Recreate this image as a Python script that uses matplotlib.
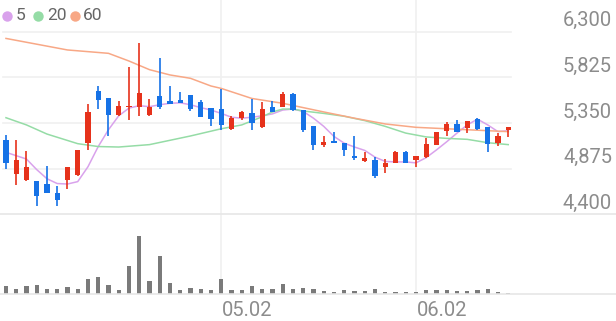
import matplotlib
matplotlib.use("Agg")
from matplotlib import pyplot as plt
from matplotlib.lines import Line2D
from matplotlib import transforms

plt.rcParams['font.family'] = ['Roboto', 'DejaVu Sans']

# daily candles (price in won)
opens = [5170, 4820, 4760, 4750, 4715, 4625, 4760, 4805, 5145, 5685,
         5610, 5435, 5515, 5520, 5435, 5635, 5575, 5585, 5640, 5565,
         5510, 5495, 5285, 5400, 5450, 5305, 5520, 5520, 5655, 5485,
         5320, 5125, 5155, 5140, 5010, 4955, 4960, 4895, 4930, 5045,
         4965, 4995, 5125, 5270, 5340, 5295, 5390, 5305, 5145, 5280]
closes = [4930, 4960, 4895, 4595, 4620, 4545, 4890, 5065, 5465, 5590,
          5435, 5530, 5530, 5660, 5515, 5520, 5550, 5560, 5495, 5415,
          5390, 5330, 5405, 5460, 5350, 5495, 5460, 5655, 5485, 5280,
          5125, 5150, 5145, 5065, 4990, 4985, 4795, 4930, 5045, 4935,
          5010, 5135, 5260, 5340, 5260, 5370, 5285, 5135, 5210, 5305]
highs = [5230, 5175, 5060, 4750, 4905, 4690, 4890, 5065, 5550, 5730,
         5610, 5580, 5930, 6180, 5600, 6030, 5730, 5675, 5640, 5590,
         5510, 5700, 5425, 5470, 5600, 5565, 5580, 5675, 5660, 5485,
         5320, 5210, 5255, 5145, 5215, 5045, 5000, 4975, 5055, 5055,
         5010, 5190, 5260, 5365, 5385, 5370, 5400, 5305, 5245, 5305]
lows = [4870, 4705, 4750, 4490, 4620, 4490, 4665, 4795, 5065, 5500,
        5210, 5425, 5385, 5425, 5425, 5495, 5550, 5560, 5470, 5415,
        5315, 5280, 5280, 5385, 5280, 5295, 5460, 5515, 5475, 5255,
        5065, 5100, 5145, 5010, 4965, 4940, 4775, 4830, 4930, 4935,
        4895, 4990, 5125, 5215, 5260, 5245, 5280, 5045, 5110, 5200]
volumes = [320, 190, 320, 350, 190, 190, 290, 190, 610, 670,
           350, 160, 1110, 2330, 530, 1530, 440, 160, 250, 190,
           160, 600, 160, 160, 310, 210, 190, 410, 210, 240,
           190, 120, 70, 150, 130, 130, 190, 80, 80, 80,
           90, 160, 160, 160, 120, 120, 160, 210, 90, 30]

ma5 = [5045, 5010, 4975, 4865, 4770, 4720, 4715, 4740, 4895, 5105,
       5280, 5425, 5505, 5530, 5520, 5540, 5555, 5560, 5540, 5510,
       5485, 5450, 5410, 5400, 5410, 5425, 5445, 5485, 5495, 5470,
       5400, 5315, 5210, 5140, 5100, 5065, 4995, 4950, 4945, 4945,
       4935, 4990, 5070, 5155, 5245, 5330, 5390, 5330, 5260, 5270]
ma20_idx = [0, 2, 4, 7, 9, 11, 14, 16, 18, 20, 21, 23, 25, 26, 27, 28,
            29, 31, 33, 35, 37, 39, 41, 43, 45, 47, 49]
ma20 = [5405, 5330, 5235, 5135, 5105, 5100, 5125, 5170, 5215, 5265, 5290,
        5330, 5415, 5465, 5495, 5495, 5475, 5450, 5420, 5375, 5315, 5245,
        5205, 5190, 5180, 5145, 5125]
ma60_idx = [0, 2, 6, 10, 12, 14, 16, 18, 20, 21, 24, 27, 29, 31, 34, 37,
            40, 44, 49]
ma60 = [6230, 6190, 6110, 6075, 5995, 5905, 5850, 5815, 5735, 5710, 5605,
        5555, 5510, 5465, 5400, 5340, 5305, 5285, 5260]

price_ticks = [4400, 4875, 5350, 5825, 6300]
date_idx = [21, 40]
date_labels = ["05.02", "06.02"]

RED = "#e6321b"
BLUE = "#1672e6"
GRID = "#f0f0f0"

fig = plt.figure(figsize=(6.16, 3.21), dpi=100)
ax = fig.add_axes([3 / 616, 106.7 / 321, 508 / 616, 182.6 / 321])
axv = fig.add_axes([3 / 616, 27 / 321, 508 / 616, 74 / 321])

n = len(opens)
xs = list(range(n))
for a in (ax, axv):
    a.set_xlim(-0.29, 49.27)
    a.axis("off")
ax.set_ylim(4400, 6300)
axv.set_ylim(0, 2960)

for t in price_ticks[1:]:
    ax.axhline(t, color=GRID, lw=1.2, zorder=0, clip_on=False)

for i in xs:
    up = closes[i] >= opens[i]
    c = RED if up else BLUE
    ax.vlines(i, lows[i], highs[i], color=c, lw=1.2, zorder=3)
    lo = min(opens[i], closes[i])
    h = max(abs(closes[i] - opens[i]), 15)
    ax.bar(i, h, bottom=lo, width=0.5, color=c, zorder=4)

ax.plot(xs, ma5, color="#d9a2ec", lw=1.1, zorder=2)
ax.plot(ma20_idx, ma20, color="#95dca6", lw=1.1, zorder=2)
ax.plot(ma60_idx, ma60, color="#f8a886", lw=1.1, zorder=2)

axv.bar(xs, volumes, width=0.4, color="#7a7a7a")

# full-width separators
for yp in (214.3, 294):
    fig.add_artist(Line2D([0, 1], [1 - yp / 321] * 2, transform=fig.transFigure,
                          color="#e6e6e6", lw=1.2))

vt = transforms.blended_transform_factory(ax.transData, fig.transFigure)
for i, lab in zip(date_idx, date_labels):
    fig.add_artist(Line2D([i, i], [1 - 294 / 321, 1], transform=vt,
                          color=GRID, lw=1.2, zorder=0))
    fig.text(i + 0.1, 1 - 316.5 / 321, lab, transform=vt, ha="left",
             va="baseline", fontsize=14.5, color="#8c8c8c")

lt = transforms.blended_transform_factory(fig.transFigure, ax.transData)
lt = lt + transforms.ScaledTranslation(0, 5.5 / 100, fig.dpi_scale_trans)
for t in price_ticks:
    fig.text(612 / 616, t, f"{t:,}", transform=lt, ha="right", va="baseline",
             fontsize=14.5, color="#8c8c8c")

# legend
ly = 1 - 15.7 / 321
items = [("5", "#d9a2ec", 7, 16), ("20", "#95dca6", 37.5, 47), ("60", "#f8a886", 74.5, 83)]
for lab, col, cx, tx in items:
    fig.add_artist(Line2D([cx / 616], [ly], transform=fig.transFigure, marker="o",
                          markersize=7.5, color=col, markeredgewidth=0))
    fig.text(tx / 616, ly, lab, ha="left", va="center", fontsize=12.5, color="#666666")

fig.savefig("out.png", dpi=100)
